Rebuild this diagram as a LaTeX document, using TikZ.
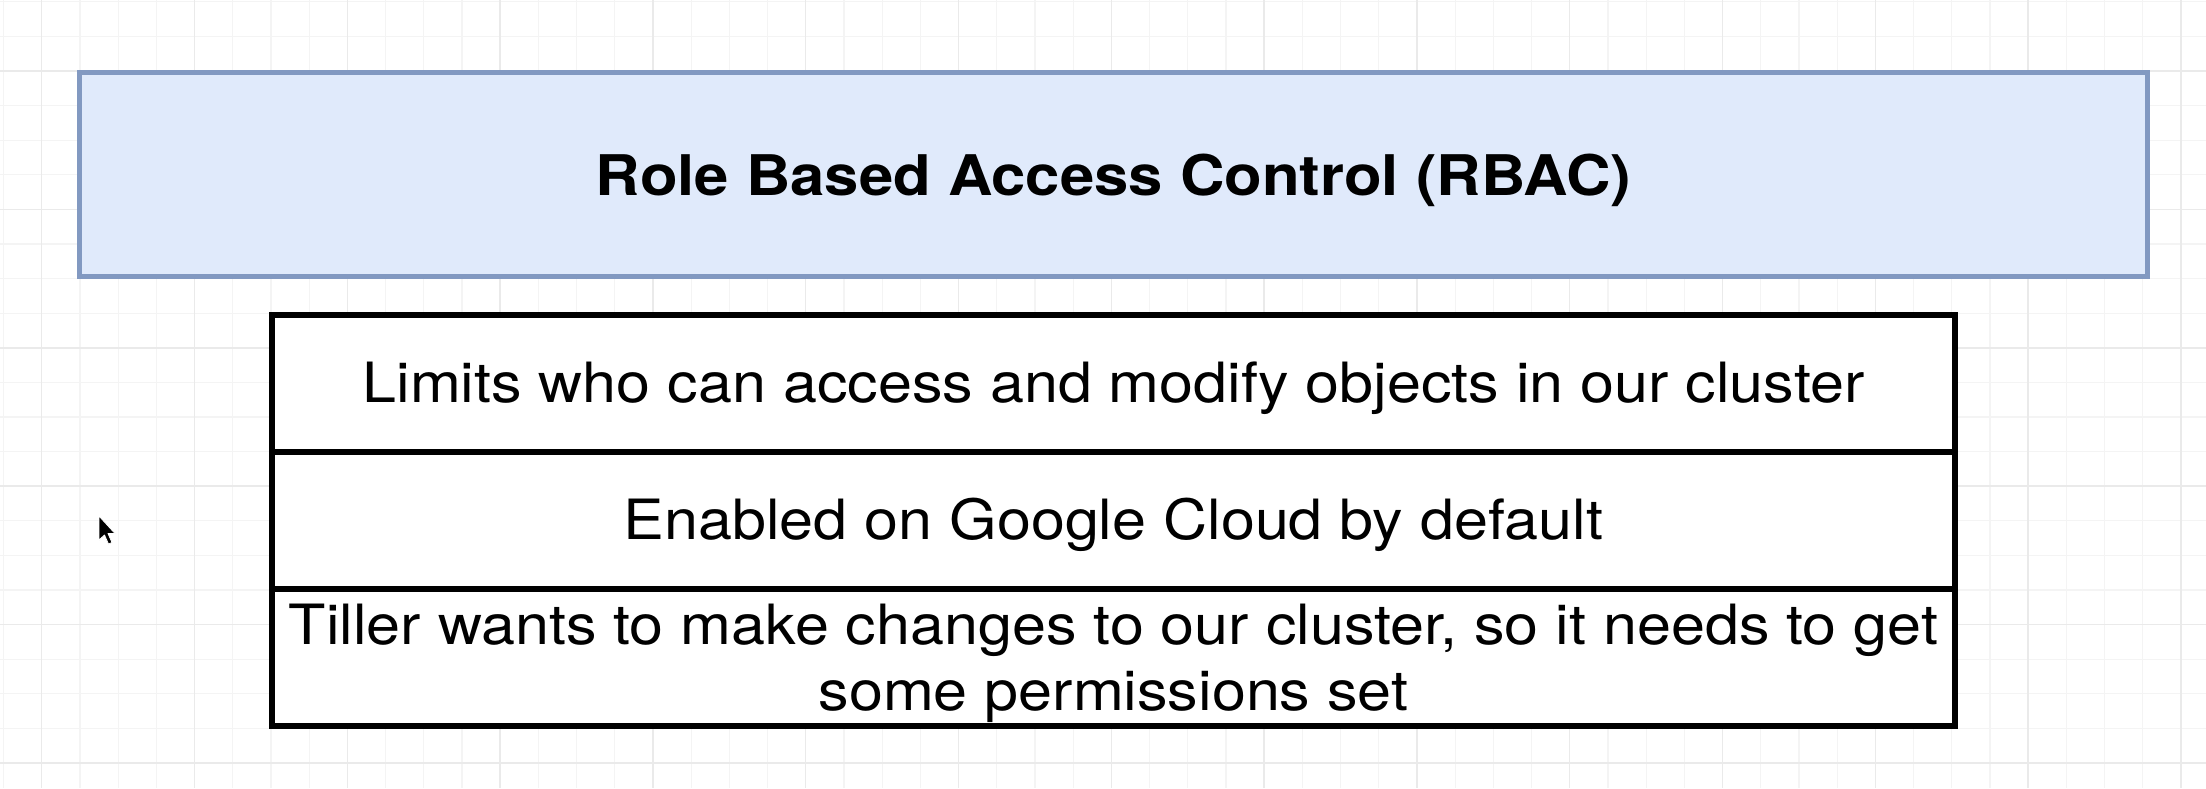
\documentclass[tikz,border=0pt]{standalone}
\usepackage{fontspec}
\setmainfont[FakeStretch=1.1]{TeX Gyre Heros}
\usetikzlibrary{positioning}

\definecolor{titlefill}{HTML}{E0EAFB}
\definecolor{titleline}{HTML}{8299C1}
\definecolor{gridminor}{HTML}{F4F4F4}
\definecolor{gridmajor}{HTML}{EAEAEA}

\begin{document}
\begin{tikzpicture}[x=1pt,y=-1pt,
                    title node/.style={rectangle,draw=titleline,fill=titlefill,line width=5pt,
                      minimum width=2068pt,minimum height=204pt,outer sep=0pt,
                      text height=48pt,text depth=7pt,
                      font=\fontsize{56}{66}\selectfont\bfseries},
                    row node/.style={rectangle,draw=black,fill=white,line width=6pt,
                      minimum width=1683pt,minimum height=137pt,outer sep=0pt,align=center,
                      font=\fontsize{55.5}{66}\selectfont}]

  \useasboundingbox (0,0) rectangle (2206,788);
  \fill[white] (0,0) rectangle (2206,788);

  % canvas grid
  \foreach \gx in {0,...,57}
    \draw[gridminor,line width=1.2pt] (3.5+38.2*\gx,0) -- (3.5+38.2*\gx,788);
  \foreach \gy in {0,...,22}
    \draw[gridminor,line width=1.2pt] (0,1.8+34.6*\gy) -- (2206,1.8+34.6*\gy);
  \foreach \gx in {0,...,14}
    \draw[gridmajor,line width=1.5pt] (41.7+152.8*\gx,0) -- (41.7+152.8*\gx,788);
  \foreach \gy in {0,...,5}
    \draw[gridmajor,line width=1.5pt] (0,71+138.4*\gy) -- (2206,71+138.4*\gy);

  \node[title node] (rbac) at (1113.5,174.5) {Role Based Access Control (RBAC)};

  \node[row node,text height=45pt,text depth=7pt] (limits) [below=38.5pt of rbac] {Limits who can access and modify objects in our cluster};
  \node[row node,text height=45pt,text depth=7pt] (enabled) [below=0pt of limits] {Enabled on Google Cloud by default};
  \node[row node,text depth=0pt] (tiller) [below=0pt of enabled] {Tiller wants to make changes to our cluster, so it needs to get\\some permissions set};

  % mouse pointer
  \filldraw[fill=black,draw=white,line width=0.8pt,line join=round]
    (99,516) -- (99,540) -- (104.5,535) -- (108.5,544) -- (112,542.5) -- (108,533.5) -- (115,533.5) -- cycle;
\end{tikzpicture}
\end{document}
